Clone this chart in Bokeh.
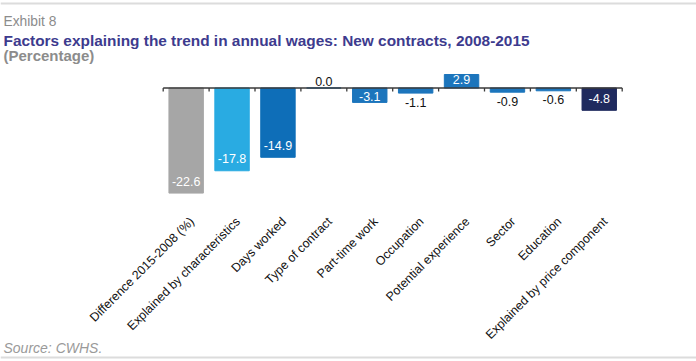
import math
from bokeh.plotting import figure
from bokeh.models import Range1d, ColumnDataSource, Label, Span
from bokeh.core.properties import value
from bokeh.embed import file_html
from bokeh.resources import INLINE

# ---- data ----
categories = [
    "Difference 2015-2008 (%)",
    "Explained by characteristics",
    "Days worked",
    "Type of contract",
    "Part-time work",
    "Occupation",
    "Potential experience",
    "Sector",
    "Education",
    "Explained by price component",
]
values = [-22.6, -17.8, -14.9, 0.0, -3.1, -1.1, 2.9, -0.9, -0.6, -4.8]
bar_colors = ["#A6A6A6", "#29ABE2", "#0E6EB8", "#1C75BC", "#1C75BC",
              "#1C75BC", "#1C75BC", "#1C75BC", "#1C75BC", "#1F2A5E"]

exhibit = "Exhibit 8"
title_text = "Factors explaining the trend in annual wages: New contracts, 2008-2015"
subtitle_text = "(Percentage)"
source_text = "Source: CWHS."

# ---- layout constants (pixels) ----
W, H = 696, 361
XS = 45.9          # px per category
X_LEFT_PX = 162.7  # canvas x of first category boundary
YS = 4.65          # px per percentage point
Y0_PX = 87.5       # canvas y of zero line
FONT = "Liberation Sans"


def dx(px):
    return (px - X_LEFT_PX) / XS


def dy(py):
    return (Y0_PX - py) / YS


p = figure(width=W, height=H, output_backend="svg", toolbar_location=None,
           x_range=Range1d(dx(0), dx(W)), y_range=Range1d(dy(H), dy(0)),
           x_axis_location=None, y_axis_location=None,
           min_border=0, min_border_left=0, min_border_right=0,
           min_border_top=0, min_border_bottom=0)
p.outline_line_color = None
p.xgrid.visible = False
p.ygrid.visible = False
p.background_fill_color = "white"
p.border_fill_color = "white"

n = len(categories)
centers = [i + 0.5 for i in range(n)]

src = ColumnDataSource(dict(x=centers, top=values, color=bar_colors))
p.vbar(x="x", top="top", bottom=0, width=0.75, fill_color="color",
       line_color="color", line_width=1, source=src)

# zero axis line with ticks at category boundaries
bounds = list(range(n + 1))
p.segment(x0=[0], y0=[0], x1=[n], y1=[0], line_color="#3A3A3A", line_width=1.3)
p.segment(x0=bounds, y0=[0] * len(bounds), x1=bounds,
          y1=[-3.5 / YS] * len(bounds), line_color="#3A3A3A", line_width=1.3)

# value labels
in_x, in_y, in_t = [], [], []
out_x, out_y, out_t = [], [], []
for c, v in zip(centers, values):
    bar_px = abs(v) * YS
    s = -1 if v < 0 else 1
    if abs(v) >= 2:
        off_px = 12 if bar_px > 20 else bar_px * 0.4
        in_x.append(c)
        in_y.append(v - s * off_px / YS)
        in_t.append(f"{v:.1f}")
    else:
        out_x.append(c)
        if v < 0:
            out_y.append(v - 9 / YS)
        else:
            out_y.append(v + 7 / YS)
        out_t.append(f"{v:.1f}")

p.text(x=in_x, y=in_y, text=in_t, text_color="white", text_font=value(FONT),
       text_font_size="12.5px", text_align="center", text_baseline="middle")
p.text(x=out_x, y=out_y, text=out_t, text_color="#111111", text_font=value(FONT),
       text_font_size="12.5px", text_align="center", text_baseline="middle")

# category labels, rotated 45 degrees
p.text(x=[c + 6.0 / XS for c in centers], y=[dy(219)] * n, text=categories,
       angle=math.pi / 4, text_color="#111111", text_font=value(FONT),
       text_font_size="12.4px", text_align="right", text_baseline="middle")

# titles
p.add_layout(Label(x=dx(3), y=dy(20.5), text=exhibit, text_font=FONT,
                   text_font_size="13.8px", text_color="#8C8C8C",
                   text_baseline="alphabetic"))
p.add_layout(Label(x=dx(3), y=dy(39.5), text=title_text, text_font=FONT,
                   text_font_size="15.4px", text_font_style="bold",
                   text_color="#3D3B8E", text_baseline="alphabetic"))
p.add_layout(Label(x=dx(3), y=dy(54.5), text=subtitle_text, text_font=FONT,
                   text_font_size="15px", text_font_style="bold",
                   text_color="#8C8C8C", text_baseline="alphabetic"))
p.add_layout(Label(x=dx(3), y=dy(347.5), text=source_text, text_font=FONT,
                   text_font_size="14px", text_font_style="italic",
                   text_color="#9A9A9A", text_baseline="alphabetic"))

# light separator lines at top and bottom
p.add_layout(Span(location=dy(3), dimension="width", line_color="#DCDCDC", line_width=2))
p.add_layout(Span(location=dy(357), dimension="width", line_color="#DCDCDC", line_width=2))

open("out.html", "w").write(file_html(p, INLINE))
